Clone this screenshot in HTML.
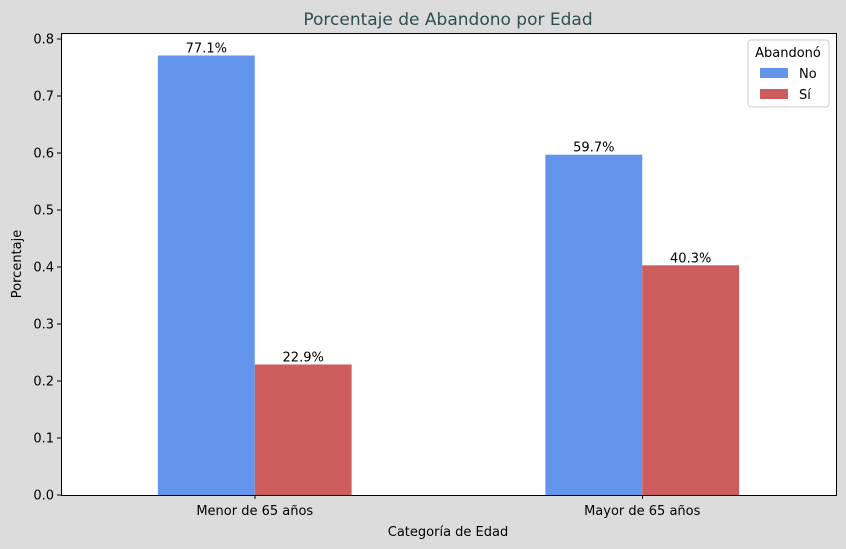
<!DOCTYPE html>
<html><head><meta charset="utf-8"><style>
html,body{margin:0;padding:0;overflow:hidden;background:#dcdcdc;font-family:"Liberation Sans","DejaVu Sans",sans-serif;}
svg{display:block;}
svg text{font-family:"DejaVu Sans","Liberation Sans",sans-serif;}
</style></head><body>
<svg id="chart" width="846" height="549">
<rect width="846" height="549" fill="#dcdcdc"/>
<text x="448" y="25" text-anchor="middle" font-size="17" fill="#2f4f4f">Porcentaje de Abandono por Edad</text>
<rect x="61" y="33" width="775" height="462" fill="#fff"/>
<g id="bars"></g>
<g id="yaxis"></g>
<g id="xaxis"></g>
<rect x="61.5" y="33.5" width="775" height="462" fill="none" stroke="#000" stroke-width="1" shape-rendering="crispEdges"/>
<text x="21" y="264" text-anchor="middle" font-size="13" transform="rotate(-90 21 264)">Porcentaje</text>
<text x="448" y="536" text-anchor="middle" font-size="13">Categoría de Edad</text>
<g>
<rect x="748" y="40" width="81" height="67" rx="3" fill="#fff" stroke="#ccc"/>
<text x="788" y="57" text-anchor="middle" font-size="13">Abandonó</text>
<rect x="760" y="68" width="28" height="10" fill="#6495ed"/>
<text x="799" y="78" font-size="13">No</text>
<rect x="760" y="89" width="28" height="10" fill="#cd5c5c"/>
<text x="799" y="99" font-size="13">Sí</text>
</g>
</svg>
<script>
const categories=["Menor de 65 años","Mayor de 65 años"];
const seriesNo=[0.771,0.597];
const seriesSi=[0.229,0.403];
const yTicks=[0,0.1,0.2,0.3,0.4,0.5,0.6,0.7,0.8];
const ns="http://www.w3.org/2000/svg";
const L=61,R=836,T=33,B=495,yMax=0.8105;
function y(v){return B-(v/yMax)*(B-T);}
function x(i){return L+(i+0.5)/2*(R-L);}
const bw=(R-L)/2*0.5/2;
function mk(t,a,p){const e=document.createElementNS(ns,t);for(const k in a)e.setAttribute(k,a[k]);p.appendChild(e);return e;}
const bars=document.getElementById('bars');
[[seriesNo,"#6495ed",-1,"no"],[seriesSi,"#cd5c5c",0,"si"]].forEach(([s,c,off,n])=>{
s.forEach((v,i)=>{
const bx=x(i)+off*bw;
const r=mk('rect',{x:bx,y:y(v),width:bw,height:B-y(v),fill:c},bars);


const t=mk('text',{x:bx+bw/2,y:y(v)-3,'text-anchor':'middle','font-size':13},bars);
t.textContent=(v*100).toFixed(1)+'%';


});});
const ya=document.getElementById('yaxis');
yTicks.forEach(v=>{
const l=mk('line',{x1:L-4,x2:L,y1:y(v),y2:y(v),stroke:'#000','shape-rendering':'crispEdges'},ya);


const t=mk('text',{x:L-7,y:y(v)+4.5,'text-anchor':'end','font-size':13},ya);
t.textContent=v.toFixed(1);


});
const xa=document.getElementById('xaxis');
categories.forEach((c,i)=>{
const l=mk('line',{x1:x(i),x2:x(i),y1:B,y2:B+4,stroke:'#000','shape-rendering':'crispEdges'},xa);


const t=mk('text',{x:x(i),y:B+20,'text-anchor':'middle','font-size':13},xa);
t.textContent=c;


});
</script>
</body></html>
